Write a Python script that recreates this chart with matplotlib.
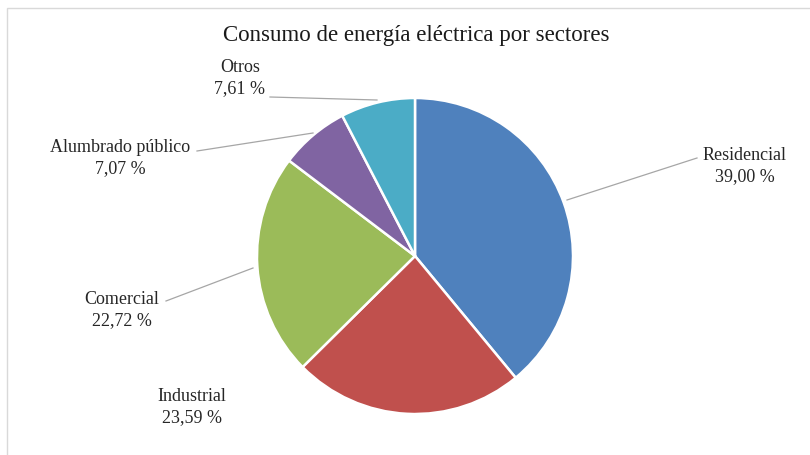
import matplotlib.pyplot as plt
from matplotlib.patches import Rectangle

# data
sectores = ["Residencial", "Industrial", "Comercial", "Alumbrado público", "Otros"]
valores = [39.00, 23.59, 22.72, 7.07, 7.61]
colores = ["#4F81BD", "#C0504D", "#9BBB59", "#8064A2", "#4BACC6"]
titulo = "Consumo de energía eléctrica por sectores"

plt.rcParams['font.family'] = ['Liberation Serif', 'DejaVu Serif']

W, H = 810, 455
fig = plt.figure(figsize=(W / 100, H / 100), dpi=100)
ax = fig.add_axes([0, 0, 1, 1])

# pie centred where the reference has it (pixel coords, y up)
cx, cy, r = 415, H - 256, 158
ax.pie(valores, colors=colores, startangle=90, counterclock=False,
       center=(cx, cy), radius=r, frame=True,
       wedgeprops=dict(edgecolor='white', linewidth=1.8))
ax.set_xlim(0, W)
ax.set_ylim(0, H)
ax.set_aspect('equal')
ax.axis('off')

# chart border
ax.add_patch(Rectangle((7, -5), W, H - 8 + 5, fill=False, edgecolor='#D9D9D9', linewidth=1))

ax.text(416, H - 35, titulo, ha='center', va='center', fontsize=16.5, color='#1a1a1a')

# label positions (pixel coords from top) and leader lines
etiquetas = {
    "Residencial": ((745, 166), [(697, 158), (567, 200)]),
    "Industrial": ((192, 407), None),
    "Comercial": ((122, 310), [(166, 301), (253, 268)]),
    "Alumbrado público": ((120, 158), [(197, 151), (313, 133)]),
    "Otros": ((240, 78), [(270, 97), (377, 100)]),
}
for nombre, v in zip(sectores, valores):
    (tx, ty), linea = etiquetas[nombre]
    txt = nombre + "\n" + f"{v:.2f}".replace(".", ",") + " %"
    ax.text(tx, H - ty, txt, ha='center', va='center', fontsize=13,
            color='#262626', linespacing=1.25)
    if linea:
        ax.plot([linea[0][0], linea[1][0]], [H - linea[0][1], H - linea[1][1]],
                color='#A6A6A6', linewidth=0.9)

fig.savefig("out.png", dpi=100)
